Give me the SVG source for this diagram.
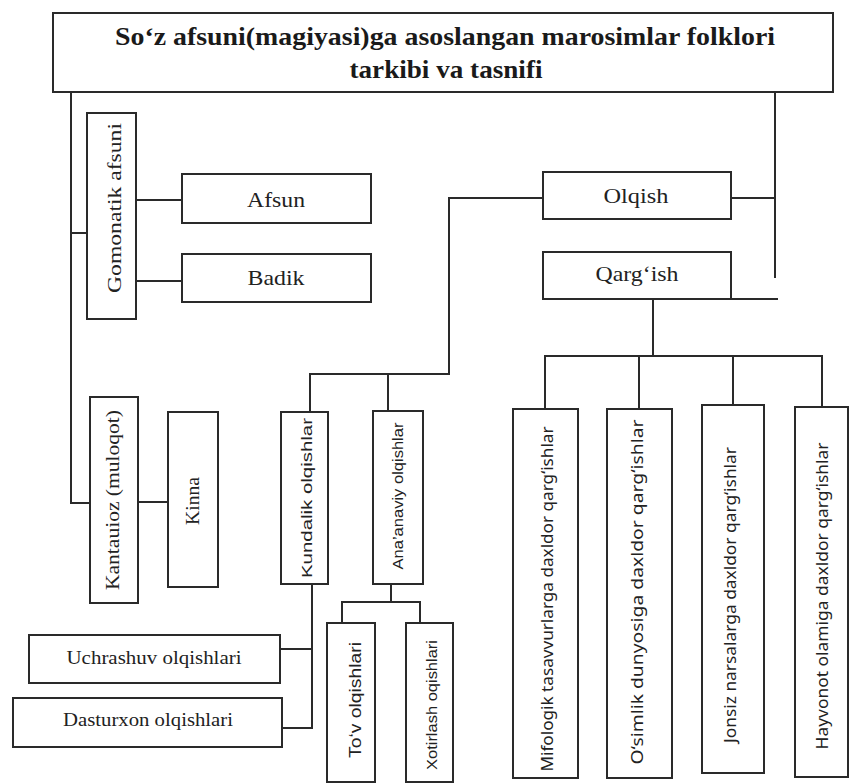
<svg xmlns="http://www.w3.org/2000/svg" width="852" height="784" viewBox="0 0 852 784">
<style>
.box{fill:#fff;stroke:#2a2a2a;stroke-width:2}
.ln{fill:none;stroke:#2a2a2a;stroke-width:2}
text{fill:#222}
.t{font-weight:bold;font-size:26px;fill:#1a1a1a}
</style>
<rect width="852" height="784" fill="#fff"/>
<g id="connectors">
<path class="ln" d="M71 92 V503 H90"/>
<path class="ln" d="M71 233 H87"/>
<path class="ln" d="M136 200 H182"/>
<path class="ln" d="M136 281 H182"/>
<path class="ln" d="M138 502 H168"/>
<path class="ln" d="M775 93 V278"/>
<path class="ln" d="M731 198 H775"/>
<path class="ln" d="M731 299 H778"/>
<path class="ln" d="M543 198 H449 V374 H310 V412"/>
<path class="ln" d="M388 374 V411"/>
<path class="ln" d="M312 584 V728 H282"/>
<path class="ln" d="M280 649 H312"/>
<path class="ln" d="M391 584 V602"/>
<path class="ln" d="M342 623 V602 H420 V623"/>
<path class="ln" d="M653 299 V356"/>
<path class="ln" d="M545 409 V356 H822 V407"/>
<path class="ln" d="M639 356 V409"/>
<path class="ln" d="M733 356 V405"/>
</g>
<g font-family="Liberation Serif, Times New Roman, serif">
<g id="title">
<rect class="box" x="53" y="13" width="780" height="79"/>
<text class="t" x="445" y="45" text-anchor="middle" textLength="660" lengthAdjust="spacingAndGlyphs">So‘z afsuni(magiyasi)ga asoslangan marosimlar folklori</text>
<text class="t" x="446" y="78" text-anchor="middle" textLength="193" lengthAdjust="spacingAndGlyphs">tarkibi va tasnifi</text>
</g>
<g id="gomonatik">
<rect class="box" x="87" y="113" width="49" height="206"/>
<text font-size="18" transform="translate(121,208) rotate(-90)" text-anchor="middle" textLength="170" lengthAdjust="spacingAndGlyphs">Gomonatik afsuni</text>
</g>
<g id="afsun">
<rect class="box" x="182" y="174" width="189" height="49"/>
<text font-size="22" x="276" y="207" text-anchor="middle" textLength="58" lengthAdjust="spacingAndGlyphs">Afsun</text>
</g>
<g id="badik">
<rect class="box" x="182" y="254" width="189" height="48"/>
<text font-size="22" x="276" y="285" text-anchor="middle" textLength="57" lengthAdjust="spacingAndGlyphs">Badik</text>
</g>
<g id="olqish">
<rect class="box" x="543" y="172" width="188" height="47"/>
<text font-size="22" x="636" y="203" text-anchor="middle" textLength="65" lengthAdjust="spacingAndGlyphs">Olqish</text>
</g>
<g id="qargish">
<rect class="box" x="543" y="252" width="188" height="47"/>
<text font-size="22" x="637" y="281" text-anchor="middle" textLength="83" lengthAdjust="spacingAndGlyphs">Qarg‘ish</text>
</g>
<g id="kantauioz">
<rect class="box" x="90" y="397" width="48" height="206"/>
<text font-size="18" transform="translate(119,500) rotate(-90)" text-anchor="middle" textLength="180" lengthAdjust="spacingAndGlyphs">Kantauioz (muloqot)</text>
</g>
<g id="kinna">
<rect class="box" x="168" y="412" width="50" height="175"/>
<text font-size="18" transform="translate(199,501) rotate(-90)" text-anchor="middle" textLength="48" lengthAdjust="spacingAndGlyphs">Kinna</text>
</g>
<g id="uchrashuv">
<rect class="box" x="29" y="635" width="251" height="48"/>
<text font-size="19" x="154" y="664" text-anchor="middle" textLength="175" lengthAdjust="spacingAndGlyphs">Uchrashuv olqishlari</text>
</g>
<g id="dasturxon">
<rect class="box" x="13" y="698" width="269" height="49"/>
<text font-size="19" x="148" y="726" text-anchor="middle" textLength="170" lengthAdjust="spacingAndGlyphs">Dasturxon olqishlari</text>
</g>
</g>
<g font-family="Liberation Sans, Arial, sans-serif">
<g id="kundalik">
<rect class="box" x="281" y="412" width="47" height="172"/>
<text font-size="15" transform="translate(312,498) rotate(-90)" text-anchor="middle" textLength="160" lengthAdjust="spacingAndGlyphs">Kundalik olqishlar</text>
</g>
<g id="ananaviy">
<rect class="box" x="373" y="411" width="50" height="173"/>
<text font-size="14" transform="translate(403,496) rotate(-90)" text-anchor="middle" textLength="147" lengthAdjust="spacingAndGlyphs">Ana’anaviy olqishlar</text>
</g>
<g id="tov">
<rect class="box" x="327" y="623" width="48" height="159"/>
<text font-size="16" transform="translate(361,700) rotate(-90)" text-anchor="middle" textLength="116" lengthAdjust="spacingAndGlyphs">To‘v olqishlari</text>
</g>
<g id="xotirlash">
<rect class="box" x="406" y="623" width="47" height="159"/>
<text font-size="15" transform="translate(437,705) rotate(-90)" text-anchor="middle" textLength="130" lengthAdjust="spacingAndGlyphs">Xotirlash oqishlari</text>
</g>
</g>
<g font-family="Noto Sans, Open Sans, sans-serif">
<g id="mifologik">
<rect class="box" x="513" y="409" width="65" height="369"/>
<text font-size="16" transform="translate(553,599) rotate(-90)" text-anchor="middle" textLength="345" lengthAdjust="spacingAndGlyphs">Mifologik tasavvurlarga daxldor qarg‘ishlar</text>
</g>
<g id="osimlik">
<rect class="box" x="607" y="409" width="65" height="369"/>
<text font-size="16" transform="translate(643,592) rotate(-90)" text-anchor="middle" textLength="345" lengthAdjust="spacingAndGlyphs">O‘simlik dunyosiga daxldor qarg‘ishlar</text>
</g>
<g id="jonsiz">
<rect class="box" x="702" y="405" width="62" height="368"/>
<text font-size="16" transform="translate(736,595) rotate(-90)" text-anchor="middle" textLength="296" lengthAdjust="spacingAndGlyphs">Jonsiz narsalarga daxldor qarg‘ishlar</text>
</g>
<g id="hayvonot">
<rect class="box" x="795" y="407" width="53" height="370"/>
<text font-size="16" transform="translate(828,596) rotate(-90)" text-anchor="middle" textLength="307" lengthAdjust="spacingAndGlyphs">Hayvonot olamiga daxldor qarg‘ishlar</text>
</g>
</g>
</svg>
